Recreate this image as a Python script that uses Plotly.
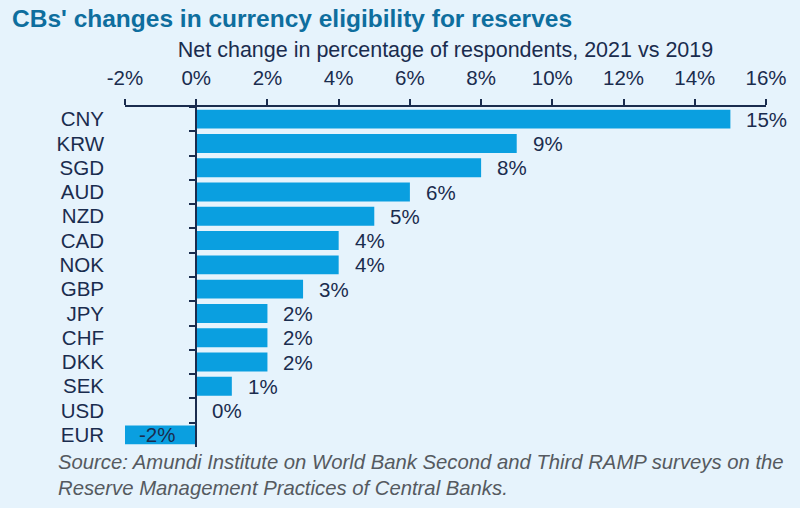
import plotly.graph_objects as go

categories = ["CNY", "KRW", "SGD", "AUD", "NZD", "CAD", "NOK", "GBP", "JPY", "CHF", "DKK", "SEK", "USD", "EUR"]
values = [15, 9, 8, 6, 5, 4, 4, 3, 2, 2, 2, 1, 0, -2]
labels = ["15%", "9%", "8%", "6%", "5%", "4%", "4%", "3%", "2%", "2%", "2%", "1%", "0%", "-2%"]
tick_vals = [-2, 0, 2, 4, 6, 8, 10, 12, 14, 16]
tick_text = ["-2%", "0%", "2%", "4%", "6%", "8%", "10%", "12%", "14%", "16%"]

BG = "#e6f3fc"
BAR = "#0a9fe0"
NAVY = "#1a2c4e"
FONT = "Liberation Sans, Arial, sans-serif"

n = len(categories)
yr = [n - 0.5, -0.5]

fig = go.Figure()
fig.add_trace(go.Bar(
    x=values, y=categories, orientation="h",
    marker=dict(color=BAR, line=dict(width=0)),
    hoverinfo="skip", yaxis="y",
))
fig.add_trace(go.Scatter(
    x=[0] * n, y=categories, mode="markers",
    marker=dict(opacity=0), hoverinfo="skip", yaxis="y2", showlegend=False,
))

for c, v, t in zip(categories, values, labels):
    if v < 0:
        fig.add_annotation(x=v / 2, y=c, text=t, showarrow=False, xanchor="center", xshift=-4,
                           font=dict(size=20.5, color=NAVY, family=FONT), yref="y")
    else:
        fig.add_annotation(x=v, y=c, text=t, showarrow=False, xanchor="left", xshift=14,
                           font=dict(size=20.5, color=NAVY, family=FONT), yref="y")

fig.add_annotation(
    x=0, xref="paper", xanchor="left", xshift=-115,
    y=1, yref="paper", yanchor="top", yshift=104,
    text="<b>CBs' changes in currency eligibility for reserves</b>",
    showarrow=False, font=dict(size=24.5, color="#0e6e9e", family=FONT),
)
fig.add_annotation(
    x=0, xref="paper", xanchor="left", xshift=-69,
    y=0, yref="paper", yanchor="top", yshift=-2,
    text="<i>Source: Amundi Institute on World Bank Second and Third RAMP surveys on the<br>Reserve Management Practices of Central Banks.</i>",
    align="left", showarrow=False, font=dict(size=20.3, color="#555a60", family=FONT),
)

fig.update_layout(
    width=800, height=508,
    paper_bgcolor=BG, plot_bgcolor=BG,
    margin=dict(l=125, r=34, t=107, b=61),
    showlegend=False, bargap=0.22,
    font=dict(family=FONT, color=NAVY, size=20),
    xaxis=dict(
        side="top", range=[-2, 16], tickvals=tick_vals, ticktext=tick_text,
        showgrid=False, zeroline=False, showline=True, linecolor=NAVY, linewidth=2,
        ticks="outside", ticklen=6, tickwidth=2, tickcolor=NAVY,
        tickfont=dict(size=20.5, color=NAVY), ticklabelstandoff=6,
        title=dict(text="Net change in percentage of respondents, 2021 vs 2019",
                   font=dict(size=21.5, color=NAVY), standoff=2),
        anchor="y",
    ),
    yaxis=dict(
        type="category", categoryorder="array", categoryarray=categories,
        range=yr, anchor="free", position=2 / 18, dtick=1,
        showline=True, linecolor=NAVY, linewidth=2,
        ticks="outside", tickson="boundaries", ticklen=6, tickwidth=2, tickcolor=NAVY,
        showticklabels=False, showgrid=False, zeroline=False,
    ),
    yaxis2=dict(
        type="category", categoryorder="array", categoryarray=categories,
        range=yr, overlaying="y", anchor="x", side="left", dtick=1,
        showline=False, ticks="", showgrid=False, zeroline=False,
        tickfont=dict(size=20.5, color=NAVY), ticklabelstandoff=20,
    ),
)

fig.write_html(
    "out.html",
    config={"displayModeBar": False},
    post_script="document.body.style.margin='0';document.body.style.background='" + BG + "';",
)
